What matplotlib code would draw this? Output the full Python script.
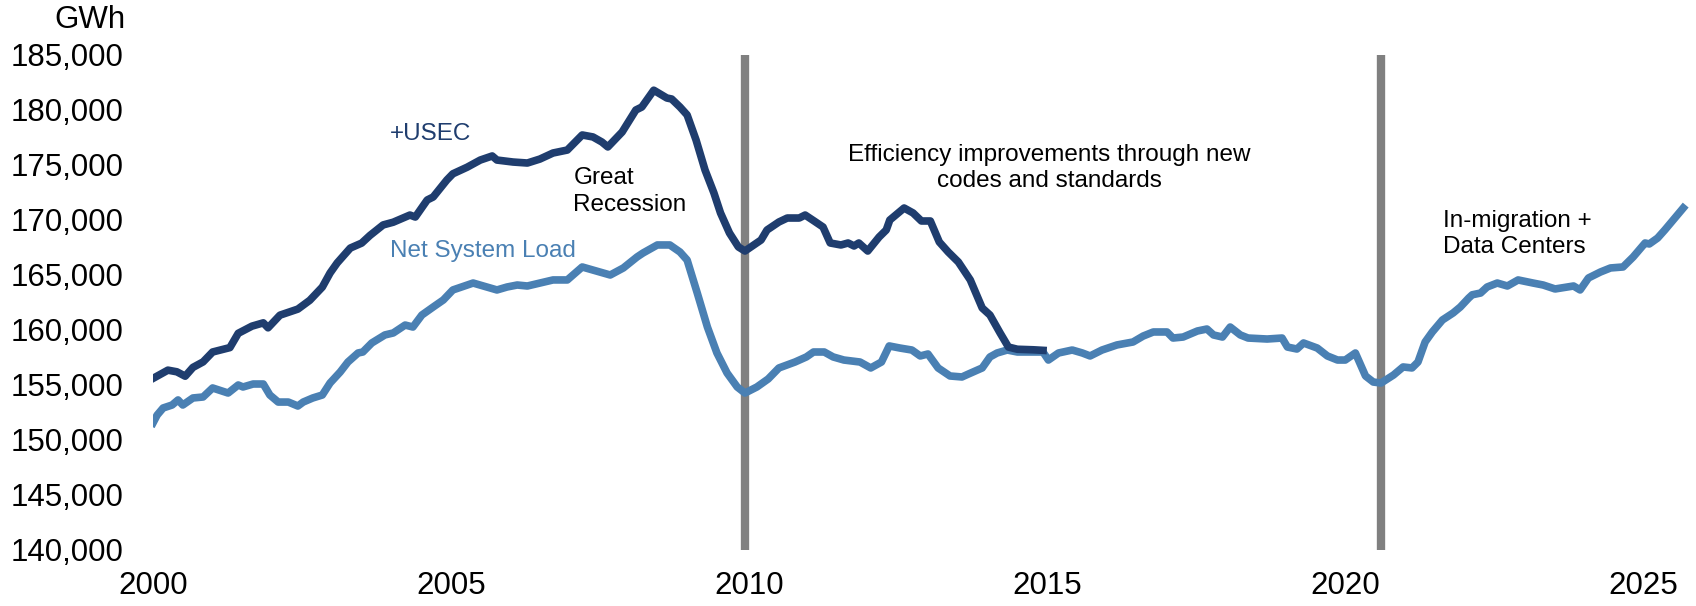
import matplotlib
matplotlib.use("Agg")
import matplotlib.pyplot as plt
from matplotlib.ticker import FuncFormatter

plt.rcParams['font.family'] = ['Liberation Sans', 'DejaVu Sans']

# +USEC series (GWh), decimal year
usec_t = [2000.00, 2000.25, 2000.40, 2000.54, 2000.67, 2000.84, 2001.00, 2001.29, 2001.43,
          2001.66, 2001.85, 2001.93, 2002.13, 2002.43, 2002.63, 2002.84, 2002.97, 2003.09,
          2003.31, 2003.50, 2003.64, 2003.86, 2004.03, 2004.31, 2004.40, 2004.60, 2004.70,
          2004.93, 2005.03, 2005.27, 2005.49, 2005.69, 2005.77, 2006.04, 2006.28, 2006.49,
          2006.71, 2006.95, 2007.20, 2007.38, 2007.53, 2007.63, 2007.87, 2008.10, 2008.20,
          2008.40, 2008.62, 2008.70, 2008.84, 2008.96, 2009.11, 2009.26, 2009.41, 2009.52,
          2009.67, 2009.82, 2009.93, 2010.20, 2010.30, 2010.50, 2010.64, 2010.84, 2010.94,
          2011.09, 2011.24, 2011.36, 2011.54, 2011.66, 2011.76, 2011.84, 2011.99, 2012.18,
          2012.30, 2012.36, 2012.60, 2012.75, 2012.89, 2013.04, 2013.19, 2013.34, 2013.51,
          2013.71, 2013.91, 2014.04, 2014.21, 2014.35, 2014.50, 2014.77, 2014.93]
usec_gwh = [155600, 156350, 156200, 155800, 156600, 157100, 158000, 158400, 159700,
            160350, 160650, 160200, 161350, 161900, 162700, 163900, 165180, 166100,
            167450, 167900, 168600, 169550, 169800, 170450, 170270, 171820, 172090,
            173640, 174200, 174800, 175450, 175820, 175450, 175270, 175180, 175540,
            176090, 176360, 177730, 177550, 177090, 176640, 178000, 180000, 180270,
            181800, 181090, 181000, 180270, 179550, 177270, 174550, 172450, 170640,
            168820, 167550, 167180, 168180, 169090, 169820, 170180, 170180, 170450,
            169910, 169360, 167910, 167730, 167910, 167640, 167910, 167180, 168450,
            169090, 170000, 171090, 170640, 169910, 169910, 168000, 167090, 166180,
            164550, 162000, 161360, 159730, 158450, 158250, 158200, 158150]

# Net System Load series (GWh), decimal year
nsl_t = [2000.00, 2000.07, 2000.17, 2000.32, 2000.42, 2000.50, 2000.67, 2000.84, 2001.00,
         2001.26, 2001.43, 2001.51, 2001.68, 2001.85, 2001.96, 2002.10, 2002.27, 2002.43,
         2002.52, 2002.68, 2002.84, 2002.97, 2003.14, 2003.27, 2003.44, 2003.52, 2003.67,
         2003.89, 2004.03, 2004.23, 2004.36, 2004.51, 2004.70, 2004.87, 2005.03, 2005.37,
         2005.77, 2005.94, 2006.11, 2006.28, 2006.49, 2006.71, 2006.95, 2007.20, 2007.38,
         2007.50, 2007.67, 2007.89, 2008.12, 2008.22, 2008.46, 2008.67, 2008.84, 2008.96,
         2009.13, 2009.30, 2009.46, 2009.63, 2009.80, 2009.93, 2010.13, 2010.32, 2010.50,
         2010.77, 2010.96, 2011.08, 2011.26, 2011.41, 2011.59, 2011.86, 2012.04, 2012.22,
         2012.35, 2012.53, 2012.73, 2012.87, 2013.00, 2013.17, 2013.37, 2013.57, 2013.68,
         2013.91, 2014.04, 2014.16, 2014.33, 2014.50, 2014.77, 2014.93, 2015.02, 2015.19,
         2015.42, 2015.59, 2015.72, 2015.92, 2016.17, 2016.44, 2016.61, 2016.78, 2017.01,
         2017.11, 2017.28, 2017.52, 2017.68, 2017.79, 2017.94, 2018.07, 2018.24, 2018.37,
         2018.69, 2018.94, 2019.03, 2019.19, 2019.30, 2019.53, 2019.70, 2019.87, 2020.00,
         2020.17, 2020.34, 2020.47, 2020.60, 2020.81, 2020.97, 2021.12, 2021.22, 2021.34,
         2021.46, 2021.63, 2021.81, 2021.93, 2022.07, 2022.13, 2022.27, 2022.38, 2022.55,
         2022.72, 2022.90, 2023.15, 2023.32, 2023.52, 2023.72, 2023.83, 2023.94, 2024.08,
         2024.28, 2024.45, 2024.66, 2024.83, 2025.03, 2025.10, 2025.24, 2025.36, 2025.50,
         2025.67]
nsl_gwh = [151550, 152270, 152910, 153180, 153640, 153180, 153820, 153910, 154730,
           154270, 155000, 154820, 155090, 155090, 154090, 153450, 153450, 153090,
           153450, 153820, 154090, 155180, 156180, 157090, 157910, 158000, 158820,
           159550, 159730, 160450, 160270, 161360, 162090, 162730, 163640, 164270,
           163640, 163910, 164090, 164000, 164270, 164550, 164550, 165730, 165450,
           165270, 165000, 165640, 166640, 167000, 167730, 167730, 167090, 166360,
           163360, 160270, 157910, 156090, 154820, 154270, 154820, 155550, 156550,
           157090, 157550, 158000, 158000, 157550, 157270, 157090, 156550, 157090,
           158550, 158360, 158180, 157640, 157820, 156550, 155820, 155730, 156000,
           156550, 157550, 157910, 158180, 158000, 158000, 158000, 157270, 157910,
           158180, 157910, 157640, 158180, 158640, 158910, 159450, 159820, 159820,
           159270, 159360, 159910, 160090, 159550, 159360, 160270, 159550, 159270,
           159180, 159270, 158450, 158270, 158820, 158360, 157640, 157270, 157270,
           157910, 155820, 155270, 155180, 155910, 156640, 156550, 157090, 158910,
           159820, 160910, 161550, 162090, 162900, 163200, 163360, 163910, 164270,
           164000, 164550, 164270, 164090, 163730, 163910, 164000, 163640, 164730,
           165270, 165640, 165730, 166640, 167910, 167820, 168360, 169090, 170000,
           171090]

# vertical markers: end of Great Recession, 2020 trough
marker_years = [2009.93, 2020.6]

years = [2000, 2005, 2010, 2015, 2020, 2025]
gwh_ticks = list(range(140000, 185001, 5000))

NAVY = '#1f3d6e'
STEEL = '#4a80b3'
GREY = '#808080'

fig = plt.figure(figsize=(16.96, 6.06), dpi=100)
ax = fig.add_axes([153 / 1696, 1 - 550 / 606, 1538 / 1696, 495 / 606])

for x in marker_years:
    ax.plot([x, x], [140000, 185000], color=GREY, lw=6, solid_capstyle='butt',
            zorder=1, clip_on=False)

ax.plot(nsl_t, nsl_gwh, color=STEEL, lw=5.5, solid_joinstyle='round', zorder=3)
ax.plot(usec_t, usec_gwh, color=NAVY, lw=5.5, solid_joinstyle='round', zorder=4)

ax.set_xlim(2000, 2025.8)
ax.set_ylim(140000, 185000)
ax.set_xticks(years)
ax.set_yticks(gwh_ticks)
ax.yaxis.set_major_formatter(FuncFormatter(lambda v, _: f"{int(v):,}"))
ax.tick_params(axis='both', length=0, labelsize=22.5)
ax.tick_params(axis='y', pad=21)
ax.tick_params(axis='x', pad=15)
for s in ax.spines.values():
    s.set_visible(False)

fig.text(125 / 1696, 1 - 20 / 606, "GWh", ha='right', va='center', fontsize=22.5)

ann = dict(fontsize=17.5, va='center')
ax.text(2003.98, 177820, "+USEC", color=NAVY, ha='left', **ann)
ax.text(2003.98, 167180, "Net System Load", color=STEEL, ha='left', **ann)
ax.text(2007.05, 172590, "Great\nRecession", color='black', ha='left',
        linespacing=1.25, **ann)
ax.text(2015.03, 174730, "Efficiency improvements through new\ncodes and standards",
        color='black', ha='center', multialignment='center', linespacing=1.25, **ann)
ax.text(2021.64, 168730, "In-migration +\nData Centers", color='black', ha='left',
        linespacing=1.2, **ann)

fig.savefig("out.png", dpi=100)
